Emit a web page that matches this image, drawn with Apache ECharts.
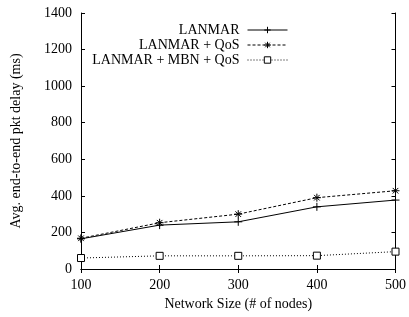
<!DOCTYPE html>
<html>
<head>
<meta charset="utf-8">
<script src="https://cdn.jsdelivr.net/npm/echarts@6/dist/echarts.min.js"></script>
<style>
  html, body { margin: 0; padding: 0; background: #fff; }
  #chart { width: 409px; height: 317px; }
</style>
</head>
<body>
<div id="chart"></div>
<script>
var nodes = [100, 200, 300, 400, 500];
var lanmar = [165, 240, 258, 340, 377];
var lanmarQos = [168, 253, 300, 390, 428];
var lanmarMbnQos = [60, 72, 72, 73, 95];
var seriesNames = ["LANMAR", "LANMAR + QoS", "LANMAR + MBN + QoS"];

var font = "Liberation Serif";
var plus = "path://M0,5L10,5M5,0L5,10";
var star = "path://M0,5L10,5M5,0L5,10M1.5,1.5L8.5,8.5M8.5,1.5L1.5,8.5";

function pairs(vals) {
  return nodes.map(function (n, i) { return [n, vals[i]]; });
}
function plain(v) { return String(v); }

var chart = echarts.init(document.getElementById("chart"));
var option = {
  backgroundColor: "#ffffff",
  animation: false,
  textStyle: { fontFamily: font, color: "#000" },
  grid: { left: 81, right: 11, top: 13, bottom: 48 },
  legend: {
    orient: "vertical",
    right: 116,
    top: 18,
    align: "right",
    itemWidth: 40,
    itemHeight: 8,
    itemGap: 1,
    lineStyle: { width: 1 },
    itemStyle: { borderWidth: 1 },
    textStyle: { fontFamily: font, fontSize: 14, color: "#000", padding: [0, 3, 0, 0] },
    data: seriesNames
  },
  xAxis: [{
    type: "value",
    min: 100, max: 500, interval: 100,
    name: "Network Size (# of nodes)",
    nameLocation: "middle",
    nameGap: 28,
    nameTextStyle: { fontFamily: font, fontSize: 14, color: "#000" },
    axisLine: { lineStyle: { color: "#000", width: 1 } },
    axisTick: { inside: true, length: 4, lineStyle: { color: "#000" } },
    axisLabel: { fontFamily: font, fontSize: 14, color: "#000", margin: 9, formatter: plain },
    splitLine: { show: false }
  }, {
    type: "value", position: "top",
    min: 100, max: 500, interval: 100,
    axisLine: { lineStyle: { color: "#000", width: 1 } },
    axisTick: { inside: true, length: 4, lineStyle: { color: "#000" } },
    axisLabel: { show: false },
    splitLine: { show: false }
  }],
  yAxis: [{
    type: "value",
    min: 0, max: 1400, interval: 200,
    name: "Avg. end-to-end pkt delay (ms)",
    nameLocation: "middle",
    nameGap: 58,
    nameTextStyle: { fontFamily: font, fontSize: 14, color: "#000" },
    axisLine: { show: true, lineStyle: { color: "#000", width: 1 } },
    axisTick: { show: true, inside: true, length: 4, lineStyle: { color: "#000" } },
    axisLabel: { fontFamily: font, fontSize: 14, color: "#000", margin: 9, formatter: plain },
    splitLine: { show: false }
  }, {
    type: "value", position: "right",
    min: 0, max: 1400, interval: 200,
    axisLine: { show: true, lineStyle: { color: "#000", width: 1 } },
    axisTick: { show: true, inside: true, length: 4, lineStyle: { color: "#000" } },
    axisLabel: { show: false },
    splitLine: { show: false }
  }],
  series: [{
    name: seriesNames[0],
    type: "line",
    data: pairs(lanmar),
    symbol: plus,
    symbolSize: 8,
    lineStyle: { color: "#000", width: 1, type: "solid" },
    itemStyle: { color: "#000", borderColor: "#000", borderWidth: 1 }
  }, {
    name: seriesNames[1],
    type: "line",
    data: pairs(lanmarQos),
    symbol: star,
    symbolSize: 8,
    lineStyle: { color: "#000", width: 1, type: [3, 2] },
    itemStyle: { color: "#000", borderColor: "#000", borderWidth: 1 }
  }, {
    name: seriesNames[2],
    type: "line",
    data: pairs(lanmarMbnQos),
    symbol: "rect",
    symbolSize: 7,
    lineStyle: { color: "#000", width: 1, type: [1, 2] },
    itemStyle: { color: "#fff", borderColor: "#000", borderWidth: 1 }
  }]
};
chart.setOption(option);
</script>
</body>
</html>
